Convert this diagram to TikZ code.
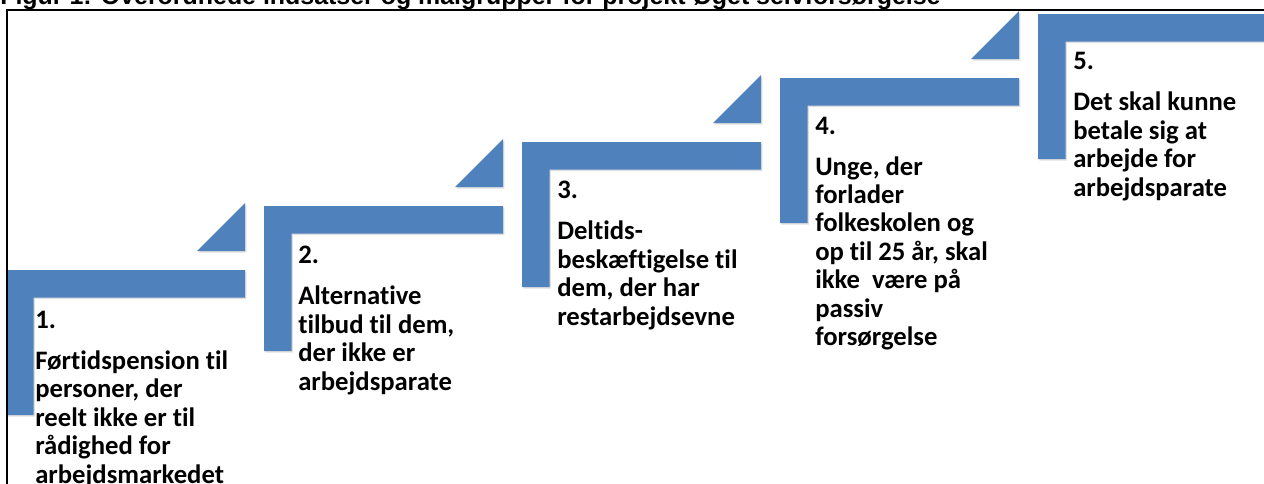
\documentclass[tikz,border=0pt]{standalone}
\usepackage{fontspec}
\setmainfont{Carlito}[Ligatures=NoCommon]
\newfontfamily\captionfont{Liberation Sans}
\usetikzlibrary{shadows}
\definecolor{stepblue}{HTML}{4F81BD}

\begin{document}
\begin{tikzpicture}[
  x=0.75pt, y=-0.75pt,
  stepbar/.style={fill=stepblue, drop shadow={shadow xshift=1pt, shadow yshift=-1.2pt, opacity=0.25}},
  steptext/.style={anchor=base west, align=left, inner sep=0pt, font=\bfseries\fontsize{20}{21.3}\selectfont},
  frameline/.style={line width=1.2pt, black}
]
\useasboundingbox (0,0) rectangle (1264,483);
\clip (0,0) rectangle (1264,483);

% caption, cut by the top edge
\node[anchor=base west, inner sep=0pt, font=\captionfont\bfseries\fontsize{18.7}{22}\selectfont] (caption) at (0,4.5) {Figur 1: Overordnede indsatser og målgrupper for projekt Øget selvforsørgelse};

% the five steps
\foreach \i in {0,...,4}{
  \begin{scope}[shift={(6+258*\i,270-64*\i)}]
    \fill[stepbar] (0,0) -- (239,0) -- (239,27.5) -- (27.5,27.5) -- (27.5,145) -- (0,145) -- cycle;
    \ifnum\i<4
      \fill[stepbar] (239,-67) -- (239,-19) -- (191,-19) -- cycle;
    \fi
  \end{scope}
}

% frame
\draw[frameline] (7,495) -- (7,10) -- (1275,10);

% texts (placed at the baseline of their last line)
\node[steptext] (t1) at (35,483) {1.\\[9.45pt]Førtidspension til\\personer, der\\reelt ikke er til\\rådighed for\\arbejdsmarkedet};
\node[steptext] (t2) at (298,390) {2.\\[9.45pt]Alternative\\tilbud til dem,\\der ikke er\\arbejdsparate};
\node[steptext] (t3) at (557,325) {3.\\[9.45pt]Deltids-\\beskæftigelse til\\dem, der har\\restarbejdsevne};
\node[steptext] (t4) at (815,345.5) {4.\\[9.45pt]Unge, der\\forlader\\folkeskolen og\\op til 25 år, skal\\ikke\ \ være på\\passiv\\forsørgelse};
\node[steptext] (t5) at (1073,196) {5.\\[9.45pt]Det skal kunne\\betale sig at\\arbejde for\\arbejdsparate};
\end{tikzpicture}
\end{document}
